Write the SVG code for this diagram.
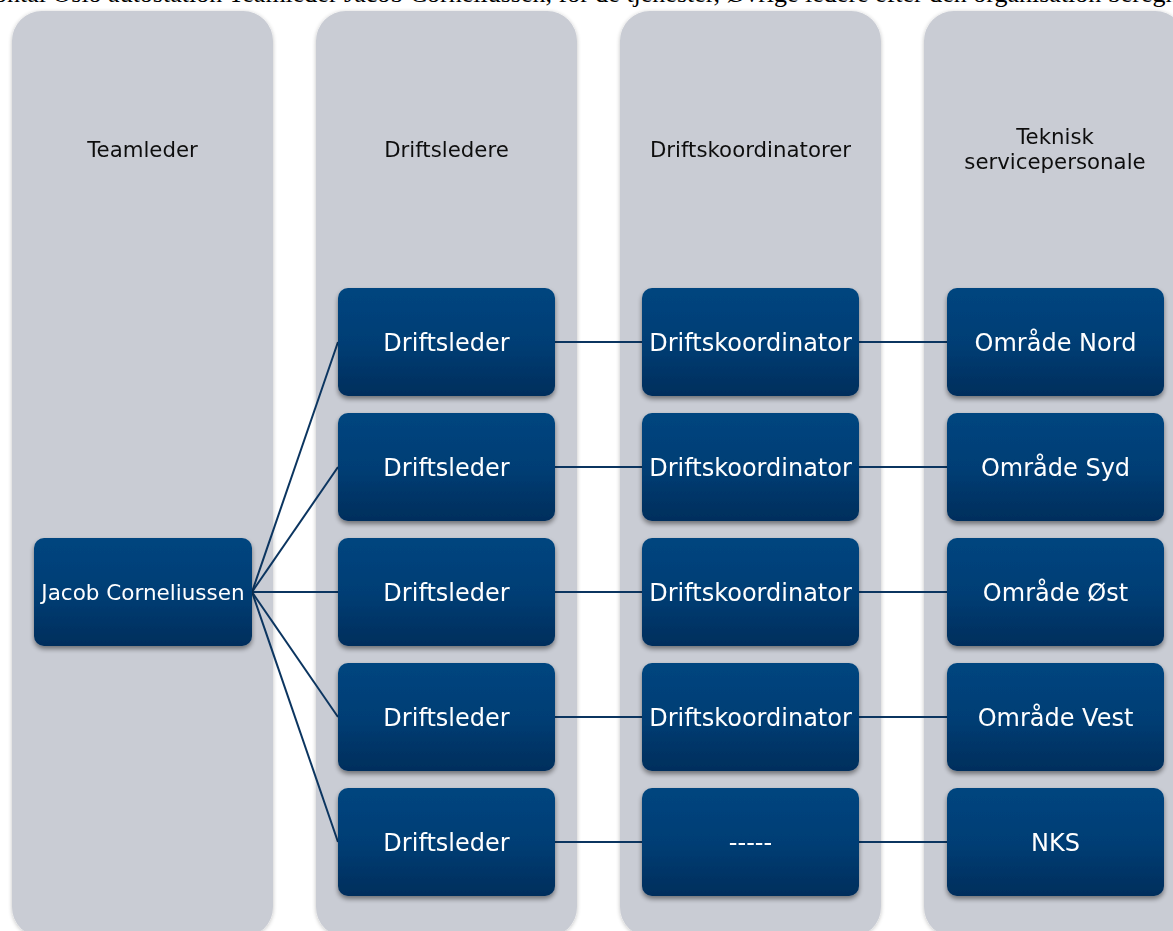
<svg xmlns="http://www.w3.org/2000/svg" width="1173" height="931" viewBox="0 0 1173 931">
  <defs>
    <linearGradient id="nodeGrad" x1="0" y1="0" x2="0" y2="1">
      <stop offset="0" stop-color="#00457F"/>
      <stop offset="0.5" stop-color="#003E75"/>
      <stop offset="1" stop-color="#002E5C"/>
    </linearGradient>
    <filter id="shadow" x="-10%" y="-10%" width="120%" height="130%">
      <feGaussianBlur in="SourceAlpha" stdDeviation="2.5"/>
      <feOffset dx="0" dy="3" result="b"/>
      <feComponentTransfer><feFuncA type="linear" slope="0.45"/></feComponentTransfer>
      <feMerge><feMergeNode/><feMergeNode in="SourceGraphic"/></feMerge>
    </filter>
    <filter id="colShadow" x="-5%" y="-5%" width="110%" height="110%">
      <feGaussianBlur in="SourceAlpha" stdDeviation="2"/>
      <feOffset dx="0" dy="1" result="b"/>
      <feComponentTransfer><feFuncA type="linear" slope="0.25"/></feComponentTransfer>
      <feMerge><feMergeNode/><feMergeNode in="SourceGraphic"/></feMerge>
    </filter>
  </defs>
  <style>
    .col { fill: #C9CCD4; }
    .hdr { font-family: "DejaVu Sans", Verdana, sans-serif; font-size: 21.3px; fill: #111111; text-anchor: middle; }
    .node rect { fill: url(#nodeGrad); }
    .node text { font-family: "DejaVu Sans", Verdana, sans-serif; font-size: 24px; fill: #FFFFFF; text-anchor: middle; }
    .conn { stroke: #0B3560; stroke-width: 2; fill: none; }
    .top { font-family: "Liberation Serif", "Times New Roman", serif; font-size: 26px; fill: #000000; }
  </style>
  <rect width="1173" height="931" fill="#FFFFFF"/>
  <text class="top" x="-6" y="1.5">ontal Oslo autostation Teamleder Jacob Corneliussen, for de tjenester, Øvrige ledere efter den organisation beregnet</text>

  <g id="columns">
    <g id="col-teamleder" filter="url(#colShadow)">
      <rect class="col" x="12" y="11" width="261" height="926" rx="30"/>
      <text class="hdr" x="142.5" y="157">Teamleder</text>
    </g>
    <g id="col-driftsledere" filter="url(#colShadow)">
      <rect class="col" x="316" y="11" width="261" height="926" rx="30"/>
      <text class="hdr" x="446.5" y="157">Driftsledere</text>
    </g>
    <g id="col-driftskoordinatorer" filter="url(#colShadow)">
      <rect class="col" x="620" y="11" width="261" height="926" rx="30"/>
      <text class="hdr" x="750.5" y="157">Driftskoordinatorer</text>
    </g>
    <g id="col-teknisk" filter="url(#colShadow)">
      <rect class="col" x="924" y="11" width="261" height="926" rx="30"/>
      <text class="hdr" x="1055" y="144">Teknisk</text>
      <text class="hdr" x="1055" y="169">servicepersonale</text>
    </g>
  </g>

  <g id="connectors">
    <line class="conn" x1="252" y1="592" x2="338" y2="342"/>
    <line class="conn" x1="252" y1="592" x2="338" y2="467"/>
    <line class="conn" x1="252" y1="592" x2="338" y2="592"/>
    <line class="conn" x1="252" y1="592" x2="338" y2="717"/>
    <line class="conn" x1="252" y1="592" x2="338" y2="842"/>
    <line class="conn" x1="555" y1="342" x2="642" y2="342"/>
    <line class="conn" x1="555" y1="467" x2="642" y2="467"/>
    <line class="conn" x1="555" y1="592" x2="642" y2="592"/>
    <line class="conn" x1="555" y1="717" x2="642" y2="717"/>
    <line class="conn" x1="555" y1="842" x2="642" y2="842"/>
    <line class="conn" x1="859" y1="342" x2="947" y2="342"/>
    <line class="conn" x1="859" y1="467" x2="947" y2="467"/>
    <line class="conn" x1="859" y1="592" x2="947" y2="592"/>
    <line class="conn" x1="859" y1="717" x2="947" y2="717"/>
    <line class="conn" x1="859" y1="842" x2="947" y2="842"/>
  </g>

  <g id="n-jacob" class="node" filter="url(#shadow)">
    <rect x="34" y="538" width="218" height="108" rx="10"/>
    <text x="143" y="600" style="font-size:21.5px">Jacob Corneliussen</text>
  </g>

  <g id="n-ds1" class="node" filter="url(#shadow)"><rect x="338" y="288" width="217" height="108" rx="10"/><text x="446.5" y="350.5">Driftsleder</text></g>
  <g id="n-ds2" class="node" filter="url(#shadow)"><rect x="338" y="413" width="217" height="108" rx="10"/><text x="446.5" y="475.5">Driftsleder</text></g>
  <g id="n-ds3" class="node" filter="url(#shadow)"><rect x="338" y="538" width="217" height="108" rx="10"/><text x="446.5" y="600.5">Driftsleder</text></g>
  <g id="n-ds4" class="node" filter="url(#shadow)"><rect x="338" y="663" width="217" height="108" rx="10"/><text x="446.5" y="725.5">Driftsleder</text></g>
  <g id="n-ds5" class="node" filter="url(#shadow)"><rect x="338" y="788" width="217" height="108" rx="10"/><text x="446.5" y="850.5">Driftsleder</text></g>

  <g id="n-dk1" class="node" filter="url(#shadow)"><rect x="642" y="288" width="217" height="108" rx="10"/><text x="750.5" y="350.5">Driftskoordinator</text></g>
  <g id="n-dk2" class="node" filter="url(#shadow)"><rect x="642" y="413" width="217" height="108" rx="10"/><text x="750.5" y="475.5">Driftskoordinator</text></g>
  <g id="n-dk3" class="node" filter="url(#shadow)"><rect x="642" y="538" width="217" height="108" rx="10"/><text x="750.5" y="600.5">Driftskoordinator</text></g>
  <g id="n-dk4" class="node" filter="url(#shadow)"><rect x="642" y="663" width="217" height="108" rx="10"/><text x="750.5" y="725.5">Driftskoordinator</text></g>
  <g id="n-dk5" class="node" filter="url(#shadow)"><rect x="642" y="788" width="217" height="108" rx="10"/><text x="750.5" y="850.5">-----</text></g>

  <g id="n-nord" class="node" filter="url(#shadow)"><rect x="947" y="288" width="217" height="108" rx="10"/><text x="1055.5" y="350.5">Område Nord</text></g>
  <g id="n-syd" class="node" filter="url(#shadow)"><rect x="947" y="413" width="217" height="108" rx="10"/><text x="1055.5" y="475.5">Område Syd</text></g>
  <g id="n-ost" class="node" filter="url(#shadow)"><rect x="947" y="538" width="217" height="108" rx="10"/><text x="1055.5" y="600.5">Område Øst</text></g>
  <g id="n-vest" class="node" filter="url(#shadow)"><rect x="947" y="663" width="217" height="108" rx="10"/><text x="1055.5" y="725.5">Område Vest</text></g>
  <g id="n-nks" class="node" filter="url(#shadow)"><rect x="947" y="788" width="217" height="108" rx="10"/><text x="1055.5" y="850.5">NKS</text></g>
</svg>
